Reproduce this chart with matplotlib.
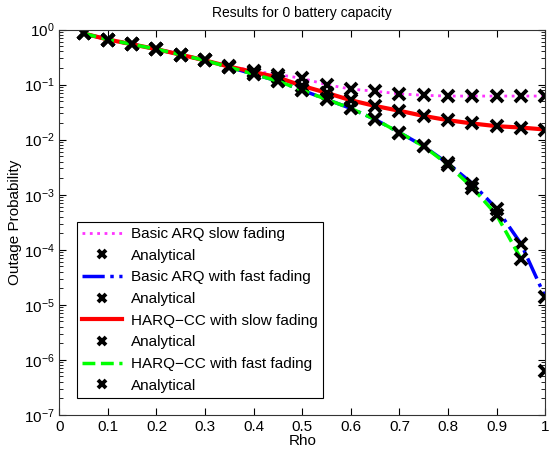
import numpy as np
import matplotlib
matplotlib.use('Agg')
import matplotlib.pyplot as plt
from matplotlib.ticker import LogLocator, NullFormatter

plt.rcParams['font.family'] = ['Liberation Sans', 'DejaVu Sans']

rho = [0.05, 0.1, 0.15, 0.2, 0.25, 0.3, 0.35, 0.4, 0.45, 0.5,
       0.55, 0.6, 0.65, 0.7, 0.75, 0.8, 0.85, 0.9, 0.95, 1.0]

# basic ARQ, slow fading
arq_slow = [0.85, 0.66, 0.54, 0.44, 0.35, 0.275, 0.215, 0.178, 0.152, 0.13,
            0.10, 0.083, 0.076, 0.068, 0.064, 0.062, 0.062, 0.062, 0.062, 0.062]
# basic ARQ, fast fading
arq_fast = [0.85, 0.66, 0.54, 0.44, 0.35, 0.275, 0.207, 0.155, 0.116, 0.079,
            0.054, 0.037, 0.0233, 0.0135, 0.0076, 0.0037, 0.0016, 5.6e-4, 1.3e-4, 1.4e-5]
# HARQ-CC, slow fading
harq_slow = [0.85, 0.66, 0.54, 0.44, 0.35, 0.275, 0.212, 0.17, 0.135, 0.095,
             0.071, 0.052, 0.041, 0.0335, 0.027, 0.0226, 0.0197, 0.0176, 0.0166, 0.0153]
# HARQ-CC, fast fading (simulation stops at 0.95)
harq_fast = [0.85, 0.66, 0.54, 0.44, 0.35, 0.275, 0.207, 0.155, 0.116, 0.079,
             0.054, 0.037, 0.0233, 0.0135, 0.0076, 0.0035, 0.00135, 4.3e-4, 6.9e-5]
harq_fast_analytical = harq_fast + [6.2e-7]

fig = plt.figure(figsize=(5.49, 4.55), dpi=100)
ax = fig.add_axes([0.108, 0.088, 0.885, 0.847])

mk = dict(linestyle='none', marker='x', color='black', markersize=8, markeredgewidth=2.8)

ax.plot(rho, arq_slow, ':', color='#ff33ff', linewidth=2, label='Basic ARQ slow fading')
ax.plot(rho, arq_slow, label='Analytical', **mk)
ax.plot(rho, arq_fast, '-.', color='#0000ff', linewidth=2.5, label='Basic ARQ with fast fading')
ax.plot(rho, arq_fast, label='Analytical', **mk)
ax.plot(rho, harq_slow, '-', color='#ff0000', linewidth=3, label='HARQ\u2212CC with slow fading')
ax.plot(rho, harq_slow, label='Analytical', **mk)
ax.plot(rho[:len(harq_fast)], harq_fast, '--', color='#00ff00', linewidth=2.5,
        label='HARQ\u2212CC with fast fading')
ax.plot(rho, harq_fast_analytical, label='Analytical', **mk)

ax.set_yscale('log')
ax.set_xlim(0, 1)
ax.set_ylim(1e-7, 1)
ax.set_xticks(np.arange(0, 1.01, 0.1))
ax.set_xticklabels(['0', '0.1', '0.2', '0.3', '0.4', '0.5', '0.6', '0.7', '0.8', '0.9', '1'])
ax.yaxis.set_major_locator(LogLocator(base=10, numticks=10))
ax.yaxis.set_minor_locator(LogLocator(base=10, subs=np.arange(2, 10), numticks=20))
ax.yaxis.set_minor_formatter(NullFormatter())
ax.tick_params(which='both', direction='in', top=True, right=True, labelsize=11)
ax.tick_params(which='major', length=5)
ax.tick_params(which='minor', length=3)
for s in ax.spines.values():
    s.set_color('#333333')

ax.set_title('Results for 0 battery capacity', fontsize=10, pad=9)
ax.set_xlabel('Rho', fontsize=11, labelpad=0)
ax.set_ylabel('Outage Probability', fontsize=11, labelpad=1)

leg = ax.legend(loc='lower left', bbox_to_anchor=(0.036, 0.044), borderaxespad=0,
                fontsize=11, fancybox=False, edgecolor='black', framealpha=1,
                markerscale=0.7, handlelength=2.6, handletextpad=0.6,
                labelspacing=0.5, borderpad=0.35)
leg.get_frame().set_linewidth(0.8)

fig.savefig('out.png', dpi=100)
